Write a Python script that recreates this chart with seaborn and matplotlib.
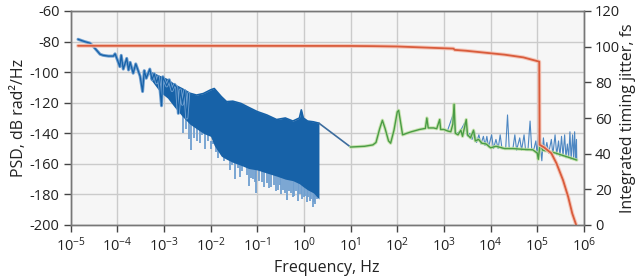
import numpy as np
import matplotlib
matplotlib.use("Agg")
import matplotlib.pyplot as plt
import seaborn as sns
from matplotlib.ticker import FixedLocator, FuncFormatter

# Low-frequency PSD trace, zig-zag part (Hz, dB rad^2/Hz)
lf_freq = [1.45e-5, 2.0e-5, 2.6e-5, 3.1e-5, 3.7e-5, 4.3e-5, 5.0e-5, 6.5e-5, 8.3e-5, 9.0e-5,
           1.0e-4, 1.14e-4, 1.22e-4, 1.35e-4, 1.6e-4, 1.75e-4, 1.9e-4, 2.2e-4, 2.5e-4, 3.1e-4,
           3.5e-4, 3.8e-4, 4.2e-4, 5.0e-4, 5.6e-4, 6.2e-4, 7.0e-4, 7.6e-4, 8.2e-4, 8.9e-4,
           9.5e-4, 1.15e-3, 1.3e-3, 1.5e-3, 1.7e-3, 1.88e-3, 2.04e-3, 2.25e-3, 2.5e-3, 2.8e-3,
           3.1e-3, 3.4e-3]
lf_db = [-78.5, -80, -81, -83.3, -86, -88.3, -89, -89.5, -89.5, -88,
         -91.6, -96.4, -89, -98, -91, -98.6, -93.6, -100.7, -94.6, -102.7,
         -112.7, -99, -104, -98, -105, -101, -107, -103, -110, -122,
         -103, -109, -105, -112, -108, -110, -127, -111.6, -121, -112,
         -130, -114]

# Dense part of the low-frequency PSD: upper edge and solid lower edge
band_freq = [5.0e-4, 8.3e-4, 1.2e-3, 1.7e-3, 2.5e-3, 3.6e-3, 5.0e-3, 7.0e-3, 1.0e-2, 1.2e-2,
             1.7e-2, 2.2e-2, 3.0e-2, 4.5e-2, 6.5e-2, 1.0e-1, 1.6e-1, 2.6e-1, 4.0e-1, 5.8e-1,
             0.8, 0.88, 0.97, 1.2, 1.6, 2.1]
band_top = [-100, -103, -105, -108.4, -111, -113.8, -115, -114, -111.6, -110.7,
            -116, -119.3, -119, -120.5, -123, -125.8, -128, -131, -130, -132,
            -130, -124.7, -130, -132, -132.5, -133.4]
band_bottom = [-104, -113, -117, -123, -129, -134, -137, -140, -142, -148,
               -155, -157, -159, -161, -163, -164, -166, -168, -170, -171,
               -173, -174, -175, -177, -179, -183]

# Deep dips below the dense band
dip_freq = [2.6e-3, 3.0e-3, 3.5e-3, 3.9e-3, 4.4e-3, 5.2e-3, 5.9e-3, 6.7e-3, 7.6e-3, 8.8e-3,
            1.0e-2, 1.15e-2, 1.3e-2, 1.45e-2, 1.65e-2, 1.9e-2, 2.2e-2, 2.6e-2, 2.9e-2, 3.3e-2,
            3.8e-2, 4.2e-2, 4.8e-2, 5.4e-2, 5.9e-2, 6.6e-2, 7.3e-2, 8.0e-2, 8.8e-2, 9.6e-2,
            0.11, 0.125, 0.14, 0.16, 0.18, 0.20, 0.225, 0.25, 0.275, 0.30,
            0.33, 0.36, 0.395, 0.43, 0.47, 0.52, 0.57, 0.62, 0.68, 0.73,
            0.79, 0.85, 0.92, 1.0, 1.08, 1.15, 1.25, 1.35, 1.45, 1.55,
            1.65, 1.75, 1.85, 1.95]
dip_db = [-140, -137, -144, -151, -143, -145, -146.5, -141, -150, -145,
          -150, -147, -152, -156, -153, -158, -157, -164, -161, -170,
          -163, -168.5, -165, -162, -167, -174.8, -169, -170, -172, -179,
          -171, -172, -175, -172.6, -176, -175, -174, -178, -177, -174,
          -180, -177, -179, -183.5, -178, -179, -182, -181, -178, -184,
          -180, -180, -183, -182, -181, -185, -182, -184, -183, -188,
          -185, -186, -182, -183]

# Bridge between the two measurements
bridge_freq = [2.1, 10]
bridge_db = [-133.4, -149]

# High-frequency PSD (green)
hf_freq = [10, 20, 30, 35, 42, 48, 55, 65, 72, 85,
           100, 107, 118, 130, 160, 200, 300, 400, 430, 460,
           600, 700, 810, 850, 1000, 1200, 1400, 1550, 1650, 1750,
           2000, 2300, 2500, 3000, 3200, 3700, 4300, 4700, 5500, 6500,
           8000, 1e4, 1.3e4, 2e4, 3e4, 5e4, 8e4, 1e5, 1.05e5, 1.15e5,
           1.3e5, 1.6e5, 2.5e5, 3.5e5, 5e5, 7e5]
hf_db = [-149, -148.5, -147.6, -146, -137, -131.5, -137, -145, -146.5, -138,
         -126, -125, -133, -141, -140, -139, -137.5, -136.8, -130, -136.5,
         -136.5, -137, -131, -137.5, -137.5, -138.5, -139, -134, -121, -140,
         -141, -138, -142, -131, -141, -143, -138, -145, -144, -146.5,
         -147, -149.5, -148.5, -150, -150, -150.5, -150.8, -153, -157, -146.5,
         -151, -151.5, -153, -154.5, -156, -157.5]

# High-frequency PSD, second trace (blue spikes)
hb_freq = [1.2e3, 1.6e3, 1.8e3, 2.2e3, 2.8e3, 3.2e3, 3.6e3, 4e3, 4.5e3, 5e3,
           5.6e3, 6.2e3, 7e3, 7.6e3, 8.3e3, 9e3, 1.05e4, 1.15e4, 1.3e4, 1.45e4,
           1.6e4, 1.75e4, 2.1e4, 2.3e4, 2.5e4, 3e4, 3.3e4, 3.6e4, 4.2e4, 4.6e4,
           5.2e4, 5.6e4, 6.3e4, 7e4, 7.6e4, 8.5e4, 9.3e4, 1e5, 1.08e5, 1.16e5,
           1.25e5, 1.35e5, 1.45e5, 1.6e5, 1.75e5, 2e5, 2.15e5, 2.4e5, 2.6e5, 2.85e5,
           3.05e5, 3.3e5, 3.55e5, 3.85e5, 4.1e5, 4.4e5, 4.7e5, 5e5, 5.3e5, 5.7e5,
           6e5, 6.3e5, 6.6e5, 6.9e5, 7e5]
hb_db = [-138, -127, -140, -139, -133, -142, -140, -144, -139, -146,
         -141, -147, -142, -148, -142, -149, -141, -150, -144, -150,
         -141, -150, -150, -128, -150, -150, -141, -151, -143, -151,
         -141, -151, -151, -132, -151, -150, -145, -155, -137, -148,
         -158, -143, -152, -146, -153, -144, -154, -141, -154, -145,
         -155, -142, -155, -141, -156, -147, -156, -139, -157, -141,
         -157, -139, -157.5, -144, -157]

# Integrated timing jitter (fs)
jit_freq = [1.45e-5, 1e-3, 1e1, 3e1, 1e2, 2e2, 5e2, 1e3, 1.6e3, 1.7e3,
            3e3, 1e4, 2e4, 5e4, 1.1e5, 1.12e5, 1.4e5, 2.0e5, 2.57e5, 3.55e5,
            4.57e5, 5.6e5, 6.6e5, 6.8e5]
jit_fs = [100.5, 100.5, 100.4, 100.3, 100.1, 99.8, 99.4, 99.1, 98.9, 98.2,
          97.7, 96.3, 95.5, 94, 91.6, 45, 43.5, 40.2, 34.6, 25.2,
          15.9, 6.5, 1, 0]

x_ticks = [10.0 ** e for e in range(-5, 7)]
psd_ticks = list(range(-200, -59, 20))
jit_ticks = list(range(0, 121, 20))

sns.set_style("whitegrid", {
    "axes.facecolor": "#f6f6f6",
    "grid.color": "#cbcbcb",
    "axes.edgecolor": "#666666",
})
plt.rcParams["font.family"] = ["Open Sans", "DejaVu Sans"]
plt.rcParams["mathtext.fontset"] = "custom"
plt.rcParams["mathtext.rm"] = "Open Sans"
plt.rcParams["mathtext.it"] = "Open Sans:italic"
plt.rcParams["axes.unicode_minus"] = False

fig = plt.figure(figsize=(6.42, 2.77), dpi=100)
ax = fig.add_axes([70.5 / 642, 1 - 225 / 277, 513.5 / 642, 214 / 277])
ax.set_xscale("log")

blue = "#1762a8"
light_blue = "#6f9fd0"

# low-frequency measurement: dips sit behind the solid band
dip_f = np.array(dip_freq)
dip_v = np.array(dip_db)
early = dip_f < 1e-2
ax.vlines(dip_f[early], dip_v[early], -125, color=light_blue, lw=1.3, zorder=2)
ax.vlines(dip_f[~early], dip_v[~early], -145, color=light_blue, lw=1.3, zorder=2)
ax.fill_between(band_freq, band_bottom, band_top, color=blue, lw=0, zorder=3)
sns.lineplot(x=band_freq, y=band_top, ax=ax, color=blue, lw=1.2, estimator=None, sort=False, zorder=3)
sns.lineplot(x=lf_freq, y=lf_db, ax=ax, color=light_blue, lw=2.2, estimator=None, sort=False, zorder=3)
sns.lineplot(x=lf_freq, y=lf_db, ax=ax, color=blue, lw=0.9, estimator=None, sort=False, zorder=4)
sns.lineplot(x=bridge_freq, y=bridge_db, ax=ax, color="#3d6d9e", lw=1.2, estimator=None, sort=False, zorder=4)

# high-frequency measurement
sns.lineplot(x=hb_freq, y=hb_db, ax=ax, color="#3b7bbd", lw=0.8, estimator=None, sort=False, zorder=3, alpha=0.9)
sns.lineplot(x=hf_freq, y=hf_db, ax=ax, color="#bddf9f", lw=2.4, estimator=None, sort=False, zorder=4, alpha=0.8)
sns.lineplot(x=hf_freq, y=hf_db, ax=ax, color="#4a9c45", lw=1.0, estimator=None, sort=False, zorder=5)

ax.set_xlim(1e-5, 1e6)
ax.set_ylim(-200, -60)
ax.xaxis.set_major_locator(FixedLocator(x_ticks))
ax.xaxis.set_minor_locator(FixedLocator([]))
ax.xaxis.set_major_formatter(FuncFormatter(lambda v, p: r"$\mathregular{10^{%d}}$" % round(np.log10(v))))
ax.set_yticks(psd_ticks)
ax.set_xlabel("Frequency, Hz", fontsize=11.5, color="#222222", labelpad=4)
ax.set_ylabel("PSD, dB rad²/Hz", fontsize=11.5, color="#222222", labelpad=2)
ax.tick_params(axis="both", which="major", length=5, width=1, color="#444444",
               labelsize=10.5, labelcolor="#222222", pad=3, bottom=True, left=True)
ax.grid(True, lw=1)

ax2 = ax.twinx()
sns.lineplot(x=jit_freq, y=jit_fs, ax=ax2, color="#f4c2b4", lw=2.8, estimator=None, sort=False, alpha=0.9)
sns.lineplot(x=jit_freq, y=jit_fs, ax=ax2, color="#d95c3c", lw=1.3, estimator=None, sort=False)
ax2.set_ylim(0, 120)
ax2.set_yticks(jit_ticks)
ax2.grid(False)
ax2.set_ylabel("Integrated timing jitter, fs", fontsize=11.5, color="#222222")
ax2.yaxis.set_label_coords((620 - 70.5) / 513.5, 0.5)
ax2.tick_params(axis="y", length=5, width=1, color="#444444", labelsize=10.5,
                labelcolor="#222222", pad=3, right=True)
for a in (ax, ax2):
    for s in a.spines.values():
        s.set_color("#777777")
        s.set_linewidth(1)

fig.savefig("out.png", dpi=100)
